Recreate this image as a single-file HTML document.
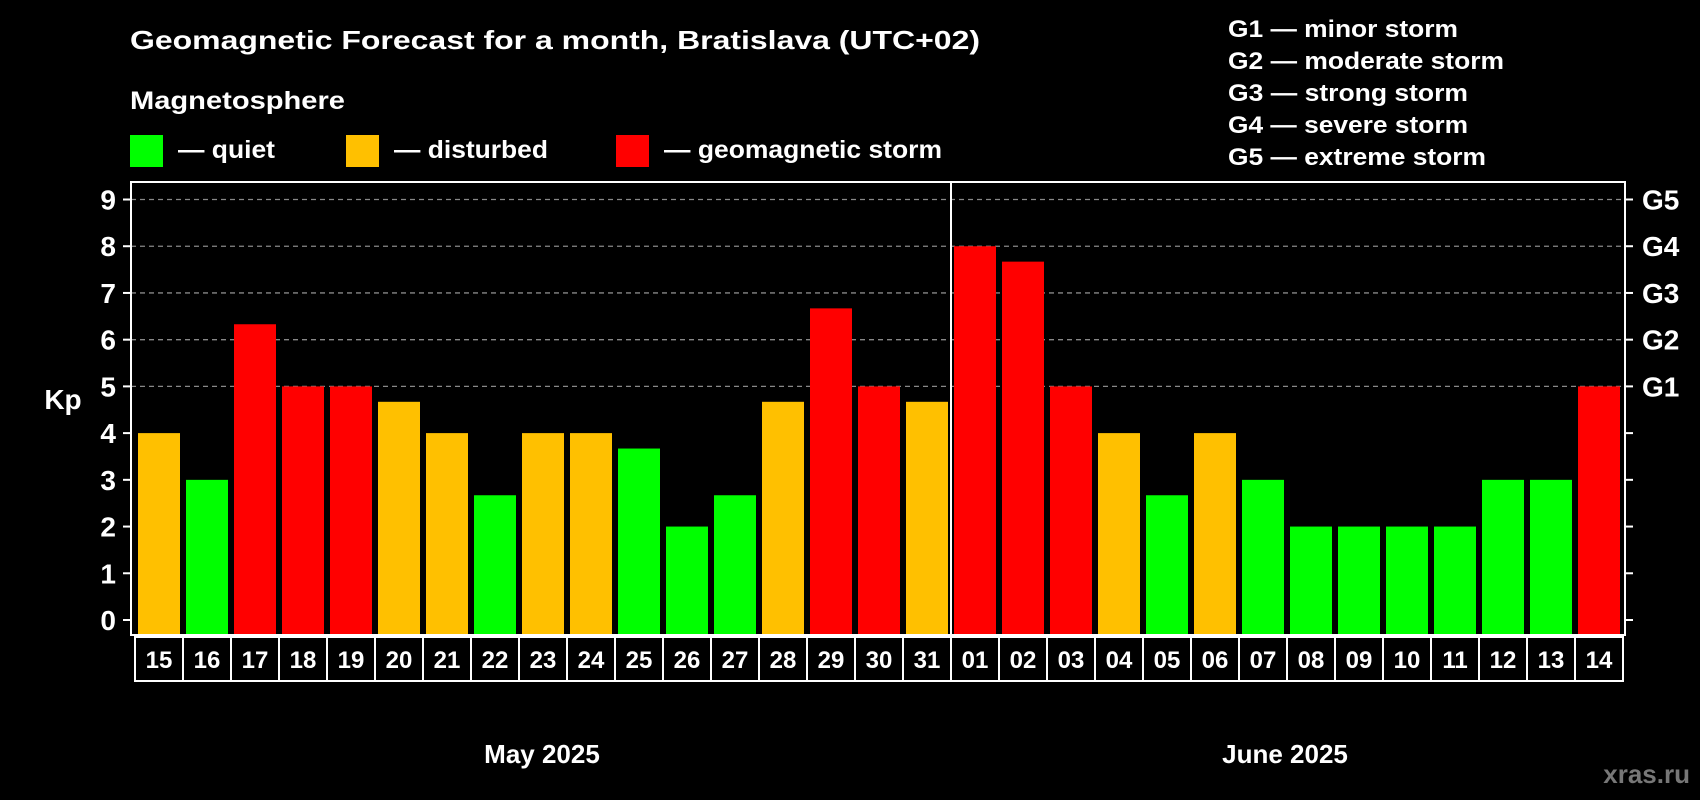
<!DOCTYPE html>
<html><head><meta charset="utf-8"><style>
html,body{margin:0;padding:0;background:#000;}
svg{display:block;font-family:"Liberation Sans",sans-serif;font-weight:bold;}
</style></head><body>
<svg id="chart" width="1700" height="800" viewBox="0 0 1700 800" xmlns="http://www.w3.org/2000/svg">
<rect width="1700" height="800" fill="#000"/>
<text x="130" y="49" fill="#fff" font-size="26" textLength="850" lengthAdjust="spacingAndGlyphs">Geomagnetic Forecast for a month, Bratislava (UTC+02)</text>
<text x="130" y="109" fill="#fff" font-size="25" textLength="215" lengthAdjust="spacingAndGlyphs">Magnetosphere</text>
<g><rect x="130" y="135" width="33" height="32" fill="#00ff00"/><text x="178" y="158" fill="#fff" font-size="25" textLength="97" lengthAdjust="spacingAndGlyphs">— quiet</text></g>
<g><rect x="346" y="135" width="33" height="32" fill="#ffc000"/><text x="394" y="158" fill="#fff" font-size="25" textLength="154" lengthAdjust="spacingAndGlyphs">— disturbed</text></g>
<g><rect x="616" y="135" width="33" height="32" fill="#ff0000"/><text x="664" y="158" fill="#fff" font-size="25" textLength="278" lengthAdjust="spacingAndGlyphs">— geomagnetic storm</text></g>
<g fill="#fff" font-size="24">
<text x="1228" y="37" textLength="230" lengthAdjust="spacingAndGlyphs">G1 — minor storm</text>
<text x="1228" y="69" textLength="276" lengthAdjust="spacingAndGlyphs">G2 — moderate storm</text>
<text x="1228" y="101" textLength="240" lengthAdjust="spacingAndGlyphs">G3 — strong storm</text>
<text x="1228" y="133" textLength="240" lengthAdjust="spacingAndGlyphs">G4 — severe storm</text>
<text x="1228" y="165" textLength="258" lengthAdjust="spacingAndGlyphs">G5 — extreme storm</text>
</g>
<text x="63" y="409" fill="#fff" font-size="28" text-anchor="middle">Kp</text>
<g id="grid"></g><g id="bars"></g><g id="axes"></g>
<text x="542" y="763" fill="#fff" font-size="26" text-anchor="middle">May 2025</text>
<text x="1285" y="763" fill="#fff" font-size="26" text-anchor="middle">June 2025</text>
<text x="1690" y="783" fill="#777" font-size="26" text-anchor="end">xras.ru</text>
</svg>
<script>
const days = ["15","16","17","18","19","20","21","22","23","24","25","26","27","28","29","30","31","01","02","03","04","05","06","07","08","09","10","11","12","13","14"];
const kpValues = [4,3,6.33,5,5,4.67,4,2.67,4,4,3.67,2,2.67,4.67,6.67,5,4.67,8,7.67,5,4,2.67,4,3,2,2,2,2,3,3,5];
const levels = ["d","q","s","s","s","d","d","q","d","d","q","q","q","d","s","s","d","s","s","s","d","q","d","q","q","q","q","q","q","q","s"];
const yTicks = ["0","1","2","3","4","5","6","7","8","9"];
const gLabels = ["","","","","","G1","G2","G3","G4","G5"];
const monthSplit = 17;

const NS="http://www.w3.org/2000/svg";
const L=131,R=1625,T=182,B=635,Y0=620,Y9=199.5;
const y=v=>Y0-(v/9)*(Y0-Y9);
const x=i=>138+i*48;
const colors={q:"#00ff00",d:"#ffc000",s:"#ff0000"};
function mk(tag,attrs,parent){const e=document.createElementNS(NS,tag);for(const k in attrs)e.setAttribute(k,attrs[k]);parent.appendChild(e);return e;}
const grid=document.getElementById('grid'),bars=document.getElementById('bars'),axes=document.getElementById('axes');
yTicks.forEach((t,i)=>{
  const yy=y(i);
  if(i>=5){const g=mk('line',{x1:L,x2:R,y1:yy,y2:yy,stroke:'#888','stroke-width':1.3,'stroke-dasharray':'5,4'},grid);
  
  }
  const lt=mk('line',{x1:L-8,x2:L,y1:yy,y2:yy,stroke:'#fff','stroke-width':2},axes);
  
  
  const rt=mk('line',{x1:R,x2:R+8,y1:yy,y2:yy,stroke:'#fff','stroke-width':2},axes);
  
  
  const tx=mk('text',{x:116,y:yy+10,fill:'#fff','font-size':28,'text-anchor':'end'},axes);
  tx.textContent=t;
  
  
  if(gLabels[i]){const gt=mk('text',{x:1642,y:yy+10,fill:'#fff','font-size':28},axes);
  gt.textContent=gLabels[i];
  
  }
});
kpValues.forEach((v,i)=>{
  const r=mk('rect',{x:x(i),y:y(v),width:42,height:B-y(v),fill:colors[levels[i]]},bars);
  
  
  const c=mk('rect',{x:135+i*48,y:637,width:48,height:44,fill:'none',stroke:'#fff','stroke-width':2},axes);
  
  
  const t=mk('text',{x:135+i*48+24,y:668,fill:'#fff','font-size':24,'text-anchor':'middle'},axes);
  t.textContent=days[i];
  
  
});
const fr=mk('rect',{x:L,y:T,width:R-L,height:B-T,fill:'none',stroke:'#fff','stroke-width':2},axes);


const dx=x(monthSplit)-3;
const dv=mk('line',{x1:dx,x2:dx,y1:T,y2:B,stroke:'#fff','stroke-width':2},axes);


</script>
</body></html>
